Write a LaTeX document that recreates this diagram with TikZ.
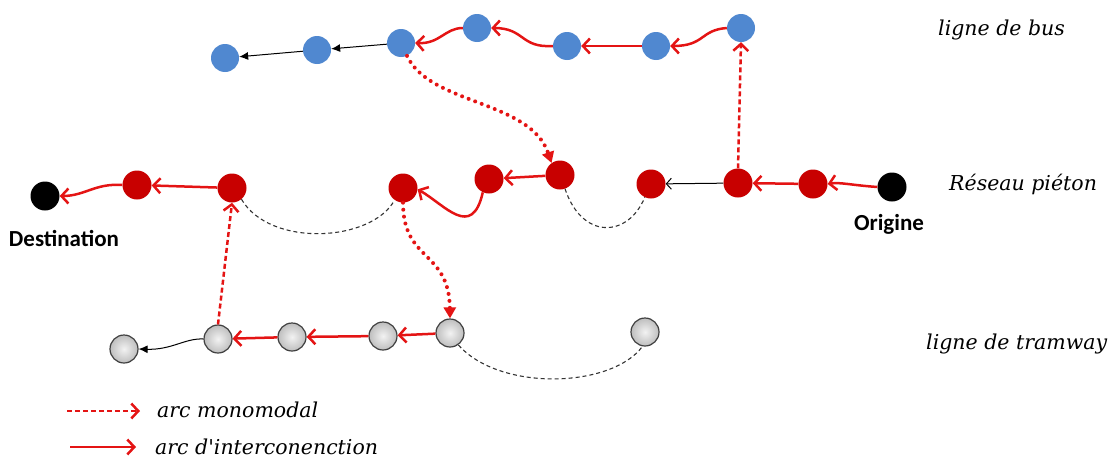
\documentclass[tikz,border=0pt]{standalone}
\usepackage{fontspec}
\setmainfont{DejaVu Serif}
\newfontfamily\labfont{Carlito}
\usetikzlibrary{arrows.meta}
\definecolor{busblue}{RGB}{80,136,208}
\definecolor{nodered}{RGB}{200,0,0}
\definecolor{arcred}{RGB}{228,20,20}
\definecolor{tramgray}{RGB}{190,190,190}
\begin{document}
\begin{tikzpicture}[x=1pt,y=-1pt,
 bus/.style={circle,fill=busblue,minimum size=28pt,inner sep=0pt},
 ped/.style={circle,fill=nodered,minimum size=29pt,inner sep=0pt},
 endp/.style={circle,fill=black,minimum size=29pt,inner sep=0pt},
 tram/.style={circle,draw=black!75,line width=1.2pt,inner color=white!90!gray,outer color=tramgray,minimum size=28pt,inner sep=0pt},
 inter/.style={draw=arcred,line width=2.5pt,-{Straight Barb[length=7pt,width=15pt,line width=2.5pt]}},
 mono/.style={draw=arcred,line width=2.5pt,dash pattern=on 5pt off 3pt,-{Straight Barb[length=7pt,width=15pt,line width=2.5pt]}},
 dotarc/.style={draw=arcred,line width=4pt,dash pattern=on 0pt off 7pt,line cap=round,-{Triangle[length=11pt,width=12pt,fill=arcred]}},
 blk/.style={draw=black,line width=1pt,-{Latex[length=9pt,width=8pt]}},
 blkopen/.style={draw=black,line width=1pt,-{Straight Barb[length=5pt,width=11pt,line width=1pt]}},
 link/.style={draw=black!80,line width=1.1pt,dash pattern=on 4pt off 3pt},
 lab/.style={font=\itshape\fontsize{20.5}{24}\selectfont,anchor=west,inner sep=0pt},
 ends/.style={font=\labfont\bfseries\fontsize{23}{27}\selectfont,inner sep=0pt}
]
\useasboundingbox (0,0) rectangle (1115,458);
% bus line
\node[bus] (B1) at (225,58) {};
\node[bus] (B2) at (317,50) {};
\node[bus] (B3) at (401,43) {};
\node[bus] (B4) at (477,28) {};
\node[bus] (B5) at (567,46) {};
\node[bus] (B6) at (656,46) {};
\node[bus] (B7) at (741,28) {};
% pedestrian network
\node[endp] (D) at (45,196) {};
\node[ped] (R1) at (137,185) {};
\node[ped] (R2) at (232,188) {};
\node[ped] (R3) at (403,188) {};
\node[ped] (R4) at (489,179) {};
\node[ped] (R5) at (560,175) {};
\node[ped] (R6) at (651,184) {};
\node[ped] (R7) at (738,183) {};
\node[ped] (R8) at (813,184) {};
\node[endp] (O) at (892,187) {};
% tram line
\node[tram] (T1) at (124,349) {};
\node[tram] (T2) at (218,339) {};
\node[tram] (T3) at (292,337) {};
\node[tram] (T4) at (383,336) {};
\node[tram] (T5) at (450,333) {};
\node[tram] (T6) at (645,332) {};
% labels
\node[ends] (Dl) at (64,238) {Destination};
\node[ends] (Ol) at (889,224) {Origine};
\node[lab] (Lbus) at (938,30) {ligne de bus};
\node[lab] (Lped) at (949,184) {Réseau piéton};
\node[lab] (Ltram) at (926,344) {ligne de tramway};
% bus arcs
\draw[blk] (B2) -- (B1);
\draw[blk] (B3) -- (B2);
\draw[inter] (B4.west) .. controls (445,28) and (440,44) .. (B3.east);
\draw[inter] (B5.west) .. controls (520,48) and (525,28) .. (B4.east);
\draw[inter] (B6) -- (B5);
\draw[inter] (B7.west) .. controls (700,30) and (705,46) .. (B6.east);
% transfers
\draw[mono] (R7.north) -- (B7.south);
\draw[dotarc] (B3.-65) .. controls (430,105) and (530,100) .. (R5.125);
\draw[dotarc] (R3.south) .. controls (403,262) and (449,250) .. (T5.north);
\draw[mono] (T2.north) -- (R2.south);
% pedestrian arcs
\draw[inter] (O.west) .. controls (850,185) and (840,182) .. (R8.east);
\draw[inter] (R8) -- (R7);
\draw[blkopen] (R7) -- (R6);
\draw[link] (R5.-70) .. controls (582,240) and (628,238) .. (R6.-115);
\draw[inter] (R5) -- (R4);
\draw[inter] (R4.-115) .. controls (472,240) and (445,205) .. (R3.-5);
\draw[link] (R2.-50) .. controls (270,248) and (372,242) .. (R3.-125);
\draw[inter] (R2) -- (R1);
\draw[inter] (R1.west) .. controls (95,183) and (85,196) .. (D.east);
% tram arcs
\draw[inter] (T5) -- (T4);
\draw[inter] (T4) -- (T3);
\draw[inter] (T3) -- (T2);
\draw[blk] (T2.west) .. controls (185,338) and (172,350) .. (T1.east);
\draw[link] (T5.-55) .. controls (500,392) and (612,388) .. (T6.-100);
% legend
\coordinate (La1) at (67,411);
\coordinate (La2) at (140,411);
\coordinate (Lb1) at (70,447);
\coordinate (Lb2) at (136,447);
\draw[mono] (La1) -- (La2);
\draw[inter] (Lb1) -- (Lb2);
\node[lab] (Lm) at (157,410) {arc monomodal};
\node[lab] (Li) at (155,447) {arc d\textquotesingle interconenction};
\end{tikzpicture}
\end{document}
